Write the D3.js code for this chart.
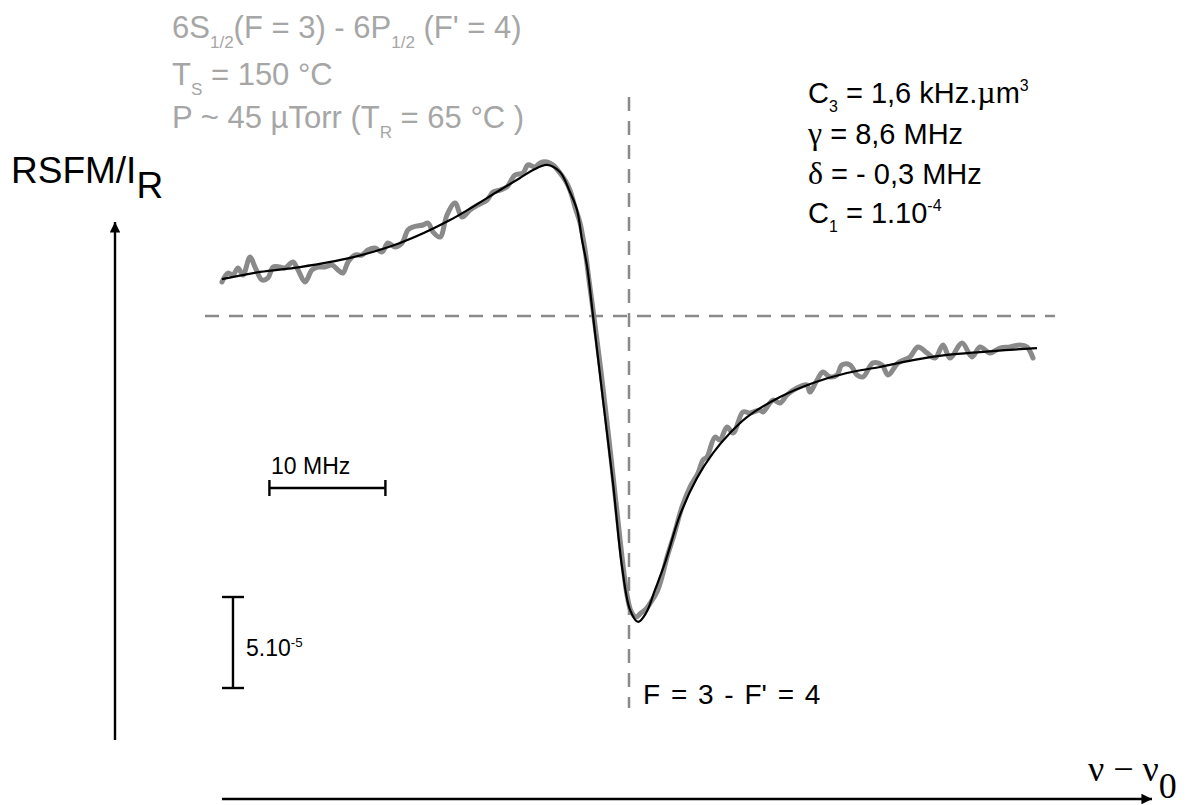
<!DOCTYPE html>
<html><head><meta charset="utf-8">
<script src="https://cdn.jsdelivr.net/npm/d3@7"></script>
<style>html,body{margin:0;padding:0;background:#fff;}svg{display:block;}</style>
</head><body>
<svg id="chart" width="1195" height="805"></svg>
<script>
// Measured signal (x: MHz relative to nu0, y: RSFM/IR in units of 1e-5)
const dataX = [-35.09,-34.57,-34.14,-33.71,-33.28,-32.67,-32.24,-31.64,-31.12,-30.69,-30.09,-29.66,-28.97,-28.53,-27.93,-27.33,-26.81,-26.21,-25.60,-25.09,-24.66,-24.22,-23.62,-23.02,-22.50,-21.90,-21.29,-20.78,-20.17,-19.57,-19.05,-18.62,-17.76,-17.33,-16.90,-16.29,-15.69,-15.00,-14.40,-13.71,-13.02,-12.24,-11.72,-11.12,-10.52,-9.83,-9.14,-8.71,-8.10,-7.67,-7.07,-6.55,-5.95,-5.52,-5.09,-4.66,-4.22,-3.79,-3.45,-3.10,-2.76,-2.41,-2.07,-1.72,-1.29,-0.86,-0.52,-0.17,0.17,0.60,1.03,1.47,1.90,2.41,2.84,3.28,3.88,4.57,5.26,5.95,6.38,6.72,7.41,7.84,8.45,8.97,9.83,10.43,11.29,11.55,12.41,13.02,13.62,14.48,15.34,15.60,16.21,16.72,17.33,17.93,18.36,19.05,19.66,20.17,21.03,21.81,22.33,23.19,24.22,24.91,25.69,26.38,27.07,27.67,28.71,29.57,30.26,31.12,31.98,32.84,33.71,34.31,34.83];
const dataY = [1.87,2.36,2.25,2.64,2.25,3.24,2.69,1.98,2.09,2.69,2.69,2.64,2.97,2.53,1.87,2.53,2.69,2.69,2.80,2.53,2.36,2.97,3.35,3.35,3.63,3.74,3.52,4.01,3.79,4.01,4.73,4.89,5.00,5.11,4.62,4.34,5.55,6.21,5.44,5.82,6.10,6.37,6.81,6.92,7.09,7.75,7.86,8.30,8.19,8.41,8.46,8.30,7.86,7.47,6.92,5.99,5.11,3.63,1.98,0.33,-1.32,-3.08,-4.89,-6.81,-9.29,-11.76,-13.68,-15.33,-16.21,-16.54,-16.32,-16.10,-15.71,-15.16,-14.34,-13.24,-12.03,-10.49,-9.40,-8.63,-7.91,-7.75,-6.65,-6.81,-6.10,-6.43,-5.27,-5.33,-5.16,-5.27,-4.62,-4.78,-4.34,-3.96,-3.79,-4.18,-3.52,-3.08,-3.35,-3.24,-2.69,-2.69,-3.24,-3.35,-2.58,-2.69,-3.24,-2.58,-2.25,-1.70,-2.03,-2.31,-1.59,-2.31,-1.48,-2.25,-1.70,-2.03,-1.76,-1.70,-1.59,-1.70,-2.31];
// Fitted curve
const fitX = [-35.09,-31.81,-28.36,-24.05,-19.74,-15.43,-11.12,-9.40,-8.28,-7.07,-5.95,-5.09,-4.48,-4.05,-3.62,-3.10,-2.24,-1.38,-0.60,0.09,0.78,1.47,2.24,3.10,4.40,5.86,7.24,8.71,10.17,13.02,15.86,18.79,21.64,24.48,27.41,30.26,35.17];
const fitY = [2.03,2.42,2.69,3.19,4.01,5.27,6.92,7.58,8.02,8.30,7.91,6.81,5.82,4.18,2.75,0,-4.62,-9.18,-13.79,-16.15,-16.81,-16.32,-15.05,-13.57,-10.93,-8.90,-7.53,-6.43,-5.55,-4.45,-3.68,-3.13,-2.80,-2.42,-2.14,-1.98,-1.76];
// Scale bars and reference lines (data units)
const hBar = [-31, -21];     // 10 MHz
const hBarY = -9.45;
const vBar = [-15.44, -20.44]; // 5e-5
const vBarX = -34.14;
const zeroLineX = [-36.55, 36.72];
const resonanceY = [12.03, -21.54];

// Text content
const titleLines = [
  [{t:"6S"},{t:"1/2",sub:1},{t:"(F = 3) - 6P"},{t:"1/2",sub:1},{t:" (F' = 4)"}],
  [{t:"T"},{t:"S",sub:1},{t:" = 150 °C"}],
  [{t:"P ~ 45 µTorr (T"},{t:"R",sub:1},{t:" = 65 °C )"}]
];
const paramLines = [
  [{t:"C"},{t:"3",sub:1},{t:" = 1,6 kHz."},{t:"µ",greek:1},{t:"m"},{t:"3",sup:1}],
  [{t:"γ",greek:1},{t:" = 8,6 MHz"}],
  [{t:"δ",greek:1},{t:" = - 0,3 MHz"}],
  [{t:"C"},{t:"1",sub:1},{t:" = 1.10"},{t:"-4",sup:1}]
];

const svg = d3.select("#chart");
const x = d3.scaleLinear().domain([-35, 45]).range([223, 1151]);
const y = d3.scaleLinear().domain([-17, 9]).range([625.4, 152.2]);

const SANS = "'Liberation Sans', Arial, sans-serif";
const SERIF = "'Liberation Serif', 'Times New Roman', serif";

function rich(parent, px, py, parts, size, color, family, subScale) {
  const t = parent.append("text").attr("x", px).attr("y", py)
    .attr("font-family", family).attr("font-size", size).attr("fill", color);
  let shift = 0;
  parts.forEach(p => {
    let target = 0, fs = size;
    if (p.sub) { target = size * 0.32; fs = size * subScale; }
    if (p.sup) { target = -size * 0.4; fs = size * subScale; }
    const ts = t.append("tspan").attr("dy", target - shift).attr("font-size", p.greek ? size * 1.1 : fs).text(p.t);
    if (p.greek) ts.attr("font-family", SERIF);
    shift = target;
  });
  return t;
}

// dashed reference lines
svg.append("line").attr("x1", x(zeroLineX[0])).attr("x2", x(zeroLineX[1]))
  .attr("y1", y(0)).attr("y2", y(0))
  .attr("stroke", "#8a8a8a").attr("stroke-width", 2.5).attr("stroke-dasharray", "14,10");
svg.append("line").attr("x1", x(0)).attr("x2", x(0))
  .attr("y1", y(resonanceY[0])).attr("y2", y(resonanceY[1]))
  .attr("stroke", "#8a8a8a").attr("stroke-width", 2.5).attr("stroke-dasharray", "14,10");

// data
const pts = dataX.map((d, i) => [d, dataY[i]]);
const fpts = fitX.map((d, i) => [d, fitY[i]]);
const line = d3.line().x(d => x(d[0])).y(d => y(d[1])).curve(d3.curveCatmullRom.alpha(0.5));
svg.append("path").attr("d", line(pts)).attr("fill", "none")
  .attr("stroke", "#8a8a8a").attr("stroke-width", 5).attr("stroke-linejoin", "round").attr("stroke-linecap", "round");
svg.append("path").attr("d", line(fpts)).attr("fill", "none")
  .attr("stroke", "#000").attr("stroke-width", 2.2);

// axes arrows
const defs = svg.append("defs");
defs.append("marker").attr("id", "arr").attr("viewBox", "0 0 10 10").attr("refX", 10).attr("refY", 5)
  .attr("markerWidth", 8).attr("markerHeight", 4.4).attr("markerUnits", "strokeWidth").attr("orient", "auto")
  .append("path").attr("d", "M0,0 L10,5 L0,10 Z").attr("fill", "#000");
svg.append("line").attr("x1", 115).attr("y1", 740).attr("x2", 115).attr("y2", 222)
  .attr("stroke", "#000").attr("stroke-width", 2.4).attr("marker-end", "url(#arr)");
svg.append("line").attr("x1", 222).attr("y1", 799).attr("x2", 1152).attr("y2", 799)
  .attr("stroke", "#000").attr("stroke-width", 2.4).attr("marker-end", "url(#arr)");

// axis labels
const yl = svg.append("text").attr("x", 11).attr("y", 183).attr("font-family", SANS).attr("font-size", 37).attr("fill", "#000");
yl.append("tspan").text("RSFM/I");
yl.append("tspan").attr("dy", 15).text("R");
const xl = svg.append("text").attr("x", 1088).attr("y", 781).attr("font-family", SERIF).attr("font-size", 36).attr("fill", "#000");
xl.append("tspan").text("ν − ν");
xl.append("tspan").attr("dy", 17).text("0");

// scale bars
const bar = svg.append("g").attr("stroke", "#000").attr("stroke-width", 2.4);
bar.append("line").attr("x1", x(hBar[0])).attr("x2", x(hBar[1])).attr("y1", y(hBarY)).attr("y2", y(hBarY));
hBar.forEach(v => bar.append("line").attr("x1", x(v)).attr("x2", x(v)).attr("y1", y(hBarY) - 8).attr("y2", y(hBarY) + 8));
bar.append("line").attr("x1", x(vBarX)).attr("x2", x(vBarX)).attr("y1", y(vBar[0])).attr("y2", y(vBar[1]));
vBar.forEach(v => bar.append("line").attr("x1", x(vBarX) - 11).attr("x2", x(vBarX) + 11).attr("y1", y(v)).attr("y2", y(v)));
svg.append("text").attr("x", 271).attr("y", 474).attr("font-family", SANS).attr("font-size", 23).text("10 MHz");
rich(svg, 246, 656, [{t:"5.10"},{t:"-5",sup:1}], 23, "#000", SANS, 0.58);

// annotations
svg.append("text").attr("x", 643).attr("y", 704).attr("font-family", SANS).attr("font-size", 28)
  .attr("word-spacing", 3).text("F = 3 - F' = 4");
titleLines.forEach((l, i) => rich(svg, 172, [38, 85, 128][i], l, 31, "#a6a6a6", SANS, 0.55));
paramLines.forEach((l, i) => rich(svg, 808, [103, 144, 184, 223][i], l, 29, "#000", SANS, 0.55));
</script>
</body></html>
